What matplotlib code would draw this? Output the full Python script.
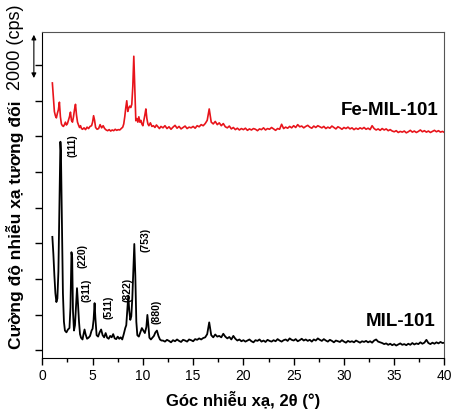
import numpy as np
import matplotlib
matplotlib.use("Agg")
import matplotlib.pyplot as plt
from matplotlib.transforms import blended_transform_factory

plt.rcParams['font.family'] = ['Liberation Sans', 'DejaVu Sans']

# --- MIL-101 (black), low-angle region ---
mil_x_low = [1.00, 1.10, 1.20, 1.30, 1.40, 1.50, 1.60, 1.70, 1.80, 1.85, 1.95, 2.05,
             2.15, 2.25, 2.40, 2.55, 2.70, 2.80, 2.90, 2.97, 3.05, 3.15, 3.25, 3.35,
             3.45, 3.55, 3.65, 3.75, 3.85, 4.00, 4.10, 4.20, 4.30, 4.45, 4.60, 4.75,
             4.90, 5.00, 5.10, 5.20, 5.28, 5.40, 5.55, 5.70, 5.85, 6.00, 6.15, 6.30,
             6.45, 6.60, 6.75, 6.90, 7.05, 7.20, 7.35, 7.50, 7.65, 7.80, 7.95, 8.10,
             8.25, 8.35, 8.45, 8.55, 8.65, 8.75, 8.85, 8.95, 9.05, 9.15, 9.25, 9.35,
             9.45, 9.60, 9.75, 9.90, 10.05, 10.20, 10.35, 10.45, 10.55, 10.65, 10.80,
             10.95, 11.10, 11.25, 11.40, 11.55, 11.70, 11.85]
mil_y_low = [3.18, 2.70, 2.10, 1.60, 1.35, 1.45, 2.20, 4.00, 5.85, 5.60, 3.50, 1.60,
             0.80, 0.55, 0.50, 0.58, 0.62, 1.20, 2.75, 2.60, 1.10, 0.55, 0.70, 1.20,
             1.74, 1.30, 0.80, 0.45, 0.35, 0.30, 0.45, 0.58, 0.45, 0.32, 0.35, 0.40,
             0.55, 0.60, 0.85, 1.32, 0.90, 0.42, 0.38, 0.50, 0.58, 0.42, 0.36, 0.48,
             0.35, 0.32, 0.40, 0.36, 0.45, 0.33, 0.31, 0.38, 0.32, 0.36, 0.30, 0.45,
             0.62, 0.70, 1.10, 1.53, 1.10, 0.85, 0.95, 1.45, 2.20, 2.98, 2.10, 0.80,
             0.42, 0.38, 0.50, 0.62, 0.55, 0.48, 0.65, 0.99, 0.70, 0.35, 0.30,
             0.35, 0.40, 0.50, 0.55, 0.40, 0.30, 0.27]

# --- Fe-MIL-101 (red), low-angle region ---
fe_x_low = [1.00, 1.10, 1.20, 1.30, 1.40, 1.50, 1.60, 1.70, 1.80, 1.90, 2.00, 2.10,
            2.20, 2.30, 2.40, 2.50, 2.60, 2.70, 2.80, 2.90, 3.00, 3.10, 3.20, 3.30,
            3.40, 3.50, 3.60, 3.70, 3.80, 3.90, 4.00, 4.15, 4.30, 4.45, 4.60, 4.75,
            4.90, 5.00, 5.10, 5.20, 5.30, 5.45, 5.60, 5.75, 5.90, 6.05, 6.20, 6.35,
            6.50, 6.65, 6.80, 6.95, 7.10, 7.25, 7.40, 7.55, 7.70, 7.85, 8.00, 8.10,
            8.20, 8.30, 8.40, 8.50, 8.60, 8.70, 8.80, 8.90, 9.00, 9.10, 9.20, 9.30,
            9.40, 9.50, 9.60, 9.70, 9.80, 9.90, 10.00, 10.10, 10.20, 10.30, 10.40,
            10.50, 10.60, 10.75, 10.90, 11.05, 11.20, 11.35, 11.50, 11.65, 11.80]
fe_y_low = [7.50, 7.10, 6.70, 6.58, 6.52, 6.65, 6.75, 6.96, 6.55, 6.35, 6.30, 6.28,
            6.33, 6.40, 6.32, 6.36, 6.45, 6.55, 6.68, 6.45, 6.40, 6.55, 6.75, 6.90,
            6.60, 6.40, 6.32, 6.25, 6.30, 6.22, 6.20, 6.24, 6.19, 6.26, 6.22, 6.28,
            6.30, 6.40, 6.58, 6.45, 6.25, 6.20, 6.22, 6.33, 6.24, 6.30, 6.22, 6.18,
            6.16, 6.19, 6.15, 6.18, 6.16, 6.20, 6.17, 6.19, 6.18, 6.22, 6.26, 6.35,
            6.55, 6.80, 7.00, 6.70, 6.80, 6.85, 6.81, 6.90, 7.40, 8.25, 7.30, 6.44,
            6.50, 6.40, 6.55, 6.40, 6.45, 6.35, 6.30, 6.45, 6.60, 6.77, 6.50,
            6.35, 6.30, 6.38, 6.28, 6.30, 6.25, 6.32, 6.27, 6.22, 6.28]

# --- high-angle region, 0.2 deg scan step from 12 to 40 ---
tail_x = np.round(np.arange(12.0, 40.01, 0.2), 1)
mil_y_tail = [0.27, 0.24, 0.29, 0.26, 0.22, 0.28, 0.25, 0.30, 0.26, 0.23, 0.29, 0.27, 0.24, 0.30, 0.28, 0.25, 0.31, 0.29, 0.33, 0.30,
              0.34, 0.36, 0.45, 0.78, 0.42, 0.36, 0.44, 0.38, 0.40, 0.36, 0.46, 0.38, 0.33, 0.37, 0.30, 0.40, 0.32, 0.27, 0.30, 0.25,
              0.28, 0.24, 0.27, 0.30, 0.25, 0.22, 0.28, 0.26, 0.30, 0.24, 0.27, 0.23, 0.29, 0.26, 0.24, 0.28, 0.25, 0.31, 0.27, 0.24,
              0.28, 0.30, 0.26, 0.33, 0.29, 0.27, 0.31, 0.25, 0.28, 0.32, 0.27, 0.30, 0.26, 0.29, 0.24, 0.30, 0.27, 0.33, 0.29, 0.26,
              0.31, 0.27, 0.24, 0.29, 0.26, 0.22, 0.27, 0.25, 0.23, 0.28, 0.24, 0.21, 0.26, 0.23, 0.25, 0.22, 0.27, 0.24, 0.21, 0.25,
              0.23, 0.26, 0.22, 0.25, 0.21, 0.27, 0.30, 0.24, 0.22, 0.20, 0.17, 0.19, 0.15, 0.18, 0.14, 0.17, 0.13, 0.16, 0.19, 0.15,
              0.17, 0.14, 0.18, 0.15, 0.20, 0.16, 0.19, 0.17, 0.22, 0.18, 0.21, 0.29, 0.20, 0.17, 0.21, 0.18, 0.22, 0.19, 0.23, 0.20,
              0.21]
fe_y_tail = [6.24, 6.30, 6.22, 6.27, 6.20, 6.26, 6.31, 6.23, 6.28, 6.21, 6.25, 6.29, 6.22, 6.26, 6.24, 6.28, 6.23, 6.30, 6.27, 6.33,
             6.30, 6.36, 6.45, 6.77, 6.40, 6.35, 6.42, 6.33, 6.38, 6.30, 6.36, 6.27, 6.24, 6.29, 6.21, 6.25, 6.19, 6.23, 6.18, 6.22,
             6.19, 6.23, 6.17, 6.21, 6.18, 6.22, 6.20, 6.16, 6.21, 6.19, 6.24, 6.18, 6.22, 6.20, 6.25, 6.21, 6.17, 6.22, 6.20, 6.34,
             6.22, 6.26, 6.23, 6.28, 6.24, 6.30, 6.25, 6.33, 6.27, 6.29, 6.24, 6.28, 6.31, 6.26, 6.23, 6.29, 6.25, 6.30, 6.27, 6.24,
             6.28, 6.22, 6.26, 6.23, 6.29, 6.25, 6.21, 6.27, 6.24, 6.20, 6.25, 6.22, 6.26, 6.21, 6.24, 6.19, 6.23, 6.20, 6.24, 6.21,
             6.25, 6.20, 6.23, 6.19, 6.30, 6.22, 6.18, 6.21, 6.17, 6.22, 6.18, 6.21, 6.16, 6.19, 6.15, 6.13, 6.16, 6.11, 6.14, 6.12,
             6.15, 6.10, 6.13, 6.17, 6.12, 6.15, 6.11, 6.14, 6.18, 6.13, 6.16, 6.12, 6.15, 6.11, 6.14, 6.17, 6.13, 6.16, 6.12, 6.14,
             6.11]

# Miller index labels (text, 2theta, height)
hkl_labels = ["(111)", "(220)", "(311)", "(511)", "(822)", "(753)", "(880)"]
hkl_x = [3.05, 3.95, 4.35, 6.54, 8.43, 10.30, 11.40]
hkl_y = [5.76, 2.67, 1.71, 1.24, 1.71, 3.12, 1.10]

mil_x = np.concatenate([mil_x_low, tail_x])
mil_y = np.concatenate([mil_y_low, mil_y_tail])
fe_x = np.concatenate([fe_x_low, tail_x])
fe_y = np.concatenate([fe_y_low, fe_y_tail])

fig = plt.figure(figsize=(4.52, 4.10), dpi=100)
ax = fig.add_axes([0.0936, 0.1244, 0.8898, 0.7951])

ax.plot(mil_x, mil_y, color='black', lw=1.3)
ax.plot(fe_x, fe_y, color='#e8141b', lw=1.2)

for lab, x, y in zip(hkl_labels, hkl_x, hkl_y):
    ax.text(x, y, lab, rotation=90, ha='center', va='center', fontsize=7.5, fontweight='bold')

ax.text(39.4, 6.76, "Fe-MIL-101", ha='right', va='center', fontsize=13.5, fontweight='bold')
ax.text(39.1, 0.84, "MIL-101", ha='right', va='center', fontsize=13.5, fontweight='bold')

ax.set_xlim(0, 40)
ax.set_ylim(-0.22, 8.93)
ax.set_xticks(np.arange(0, 41, 5))
ax.set_xticks(np.arange(2.5, 40, 5), minor=True)
ax.set_yticks(np.arange(0, 9, 1))
ax.set_yticklabels([])
ax.tick_params(axis='x', which='major', length=5, width=1, labelsize=10, pad=2.5)
ax.tick_params(axis='x', which='minor', length=3, width=1)
ax.tick_params(axis='y', length=5, width=1)
for side in ['left', 'bottom']:
    ax.spines[side].set_color('black')
for side in ['right', 'top']:
    ax.spines[side].set_color('#555555')

ax.set_xlabel("Góc nhiễu xạ, 2θ (°)", fontsize=12, fontweight='bold', va='center')
ax.xaxis.set_label_coords(0.5, -0.126)

# scale bar arrow
trans = blended_transform_factory(ax.transAxes, ax.transData)
ax.annotate("", xy=(-0.021, 8.93), xytext=(-0.021, 7.56), xycoords=trans, textcoords=trans,
            arrowprops=dict(arrowstyle='<|-|>', color='black', lw=0.8, mutation_scale=7),
            annotation_clip=False)

fig.text(15 / 452, 1 - 47 / 410, "2000 (cps)", rotation=90, ha='center', va='center', fontsize=13)
fig.text(15 / 452, 1 - 225 / 410, "Cường độ nhiễu xạ tương đối", rotation=90,
         ha='center', va='center', fontsize=12.5, fontweight='bold')

fig.savefig("out.png", dpi=100)
